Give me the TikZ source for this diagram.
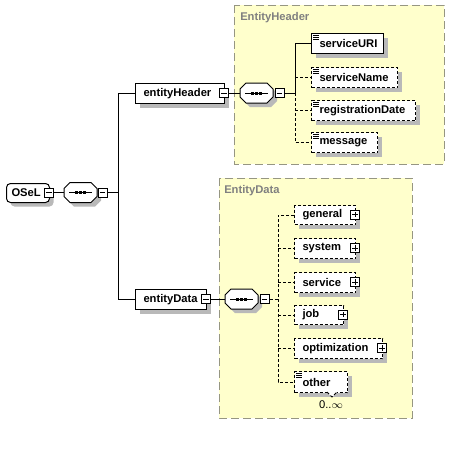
\documentclass[tikz,border=0pt]{standalone}
\usepackage{fontspec}
\setmainfont{Liberation Sans}
\definecolor{ybg}{RGB}{255,255,204}
\definecolor{yborder}{RGB}{150,150,130}
\definecolor{shd}{RGB}{185,185,185}
\definecolor{lblgray}{RGB}{128,128,128}
\tikzset{
  shadowed/.style={preaction={fill=shd, transform canvas={shift={(3pt,-3pt)}}}},
  elembase/.style={draw=black, fill=white, line width=0.75pt, font=\fontsize{8.4}{10}\selectfont\bfseries, shadowed},
  reqel/.style={elembase},
  optel/.style={elembase, dash pattern=on 2.25pt off 1.5pt},
  rootel/.style={elembase, rounded corners=3pt},
  attricon/.style={path picture={\foreach \d in {1.3,2.8,4.3} \draw[solid, line width=0.5pt] ([shift={(1.4pt,-\d pt)}]path picture bounding box.north west) -- ++(4.5pt,0);}},
  pmbase/.style={draw=black, fill=white, line width=0.75pt, minimum size=6.75pt, inner sep=0pt, solid},
  minusbox/.style={pmbase, path picture={\draw[line width=0.75pt] ([xshift=1.4pt]path picture bounding box.west) -- ([xshift=-1.4pt]path picture bounding box.east);}},
  plusbox/.style={pmbase, path picture={\draw[line width=0.75pt] ([xshift=1.4pt]path picture bounding box.west) -- ([xshift=-1.4pt]path picture bounding box.east); \draw[line width=0.75pt] ([yshift=-1.4pt]path picture bounding box.north) -- ([yshift=1.4pt]path picture bounding box.south);}},
  seqanchor/.style={rectangle, draw=none, minimum width=24.75pt, minimum height=15pt, inner sep=0pt},
  seqshape/.style={draw=black, fill=white, line width=0.75pt},
  seqshadow/.style={fill=shd},
  seqdot/.style={fill=black},
  grpbox/.style={fill=ybg, draw=yborder, line width=0.75pt, dash pattern=on 6pt off 3pt},
  grplabel/.style={anchor=west, inner sep=0pt, text=lblgray, font=\fontsize{8.4}{10}\selectfont\bfseries},
  conn/.style={line width=0.75pt},
  conndash/.style={conn, dash pattern=on 2.25pt off 1.5pt},
  occlabel/.style={inner sep=0pt, font=\fontsize{8.4}{10}\selectfont},
}
\newcommand\elem[7]{\node[#2, anchor=north west, inner xsep=6pt, inner ysep=0pt, minimum width={(#5-#3)*0.75pt}, minimum height={(#6-#4)*0.75pt}, text width={(#5-#3-16)*0.75pt}, align=left] (#1) at (#3,#4) {#7};}
\newcommand\octpath{(-16.5,-4) -- (-10.5,-10) -- (10.5,-10) -- (16.5,-4) -- (16.5,4) -- (10.5,10) -- (-10.5,10) -- (-16.5,4) -- cycle}
\newcommand\seqnode[3]{%
  \begin{scope}[shift={(#2,#3)}]
    \fill[seqshadow] [shift={(4,4)}] \octpath;
    \filldraw[seqshape] \octpath;
    \draw[conn] (-11.5,0) -- (11.5,0);
    \fill[seqdot] (-5.5,-1.5) rectangle (-2.5,1.5);
    \fill[seqdot] (-1.5,-1.5) rectangle (1.5,1.5);
    \fill[seqdot] (2.5,-1.5) rectangle (5.5,1.5);
  \end{scope}
  \node[seqanchor] (#1) at (#2,#3) {};}
\begin{document}
\begin{tikzpicture}[x=0.75pt, y=-0.75pt]
\useasboundingbox (0,0) rectangle (465,450);
\fill[white] (0,0) rectangle (465,450);
% group boxes
\draw[grpbox] (234,5) rectangle (444,164);
\node[grplabel] (lhdr) at (240,18) {EntityHeader};
\draw[grpbox] (219,178) rectangle (412,418);
\node[grplabel] (ldat) at (224,191) {EntityData};
% root
\node[rootel, anchor=north west, inner xsep=3.75pt, inner ysep=0pt, minimum width=32.25pt, minimum height=14.25pt, text width=24.75pt, align=left] (osel) at (6,183) {OSeL};
\node[minusbox] (oselm) at (49,192.5) {};
\seqnode{rseq}{80.5}{192.5}
\node[minusbox] (rseqm) at (102.5,192.5) {};
\coordinate (b1) at (118,0);
% level 1
\elem{eh}{reqel}{135}{83}{224}{103}{entityHeader}
\node[minusbox] (ehm) at (224,93) {};
\elem{ed}{reqel}{135}{289}{206}{309}{entityData}
\node[minusbox] (edm) at (206,299) {};
% header sequence
\seqnode{hseq}{256.5}{93}
\node[minusbox] (hseqm) at (279.5,93) {};
\coordinate (b2) at (295,0);
\elem{suri}{reqel,attricon}{311}{33}{383}{53}{serviceURI}
\elem{sname}{optel,attricon}{311}{67}{397}{87}{serviceName}
\elem{rdate}{optel,attricon}{311}{100}{415}{120}{registrationDate}
\elem{msg}{optel,attricon}{311}{132}{377}{152}{message}
% data sequence
\seqnode{dseq}{241.5}{299}
\node[minusbox] (dseqm) at (264.5,299) {};
\coordinate (b3) at (278,0);
\elem{gen}{optel}{294}{205}{355}{224}{general}
\node[plusbox] (genp) at (355,214.5) {};
\elem{sys}{optel}{294}{238}{355}{258}{system}
\node[plusbox] (sysp) at (355,248) {};
\elem{svc}{optel}{294}{272}{355}{292}{service}
\node[plusbox] (svcp) at (355,282) {};
\elem{job}{optel}{294}{305}{343}{324}{job}
\node[plusbox] (jobp) at (343,314.5) {};
\elem{opt}{optel}{294}{338}{382}{358}{optimization}
\node[plusbox] (optp) at (382,348) {};
\elem{oth}{optel,attricon}{294}{371}{347}{392}{other}
\draw[conn, dash pattern=on 2.25pt off 1.5pt, fill=white] (327,392) -- (332,397) -- (337,392);
\node[occlabel] (othocc) at (331,405) {0..$\infty$};
% connectors
\draw[conn] (oselm.east) -- (rseq.west);
\draw[conn] (rseqm.east) -- (rseqm.east -| b1);
\draw[conn] (eh.west -| b1) -- (eh.west);
\draw[conn] (eh.west -| b1) -- (ed.west -| b1) -- (ed.west);
\draw[conn] (ehm.east) -- (hseq.west);
\draw[conn] (hseqm.east) -- (hseqm.east -| b2);
\draw[conn] (suri.west) -| (hseqm.east -| b2);
\draw[conndash] (hseqm.east -| b2) |- (msg.west);
\draw[conndash] (sname.west -| b2) -- (sname.west);
\draw[conndash] (rdate.west -| b2) -- (rdate.west);
\draw[conn] (edm.east) -- (dseq.west);
\draw[conndash] (dseqm.east) -- (dseqm.east -| b3);
\draw[conndash] (gen.west) -| (oth.west -| b3) -- (oth.west);
\foreach \n in {sys,svc,job,opt} \draw[conndash] (\n.west -| b3) -- (\n.west);
\end{tikzpicture}
\end{document}
